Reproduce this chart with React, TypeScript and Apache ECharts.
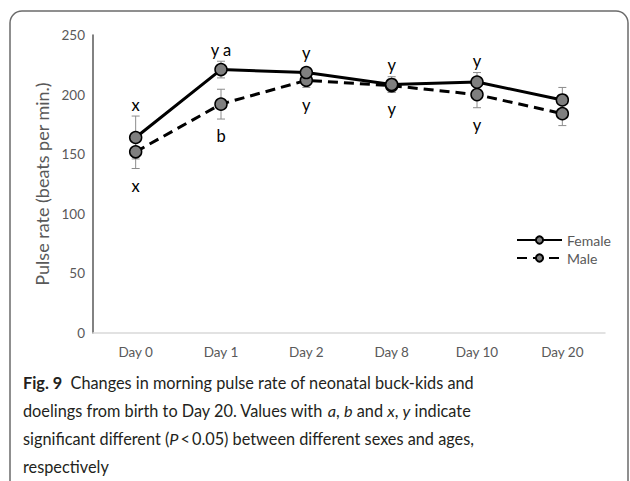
import React, { useEffect, useRef } from "react";
import * as echarts from "echarts";

const categories = ["Day 0", "Day 1", "Day 2", "Day 8", "Day 10", "Day 20"];
const femaleValues = [164, 221, 218.5, 208.5, 210.5, 195.5];
const femaleErrors = [18, 7, 4, 6.5, 8, 10.5];
const femaleLetters = ["x", "y a", "y", "y", "y", ""];
const maleValues = [152, 192, 212, 207.5, 200, 184];
const maleErrors = [14, 12.5, 6, 5.5, 11, 10];
const maleLetters = ["x", "b", "y", "y", "y", ""];
const yTicks = [0, 50, 100, 150, 200, 250];

const PX_PER_UNIT = 298 / 250;
const FONT = "Lato, 'Open Sans', sans-serif";

function errorSeries(name: string, values: number[], errors: number[]) {
  return {
    name: name + "-err",
    type: "custom",
    z: 1,
    silent: true,
    data: values.map((v, i) => [i, v - errors[i], v + errors[i]]),
    renderItem: (params: any, api: any) => {
      const x = api.value(0);
      const lo = api.coord([x, api.value(1)]);
      const hi = api.coord([x, api.value(2)]);
      const style = { stroke: "#8c8c8c", lineWidth: 1 };
      const cap = 4;
      return {
        type: "group",
        children: [
          { type: "line", shape: { x1: lo[0], y1: lo[1], x2: hi[0], y2: hi[1] }, style },
          { type: "line", shape: { x1: lo[0] - cap, y1: lo[1], x2: lo[0] + cap, y2: lo[1] }, style },
          { type: "line", shape: { x1: hi[0] - cap, y1: hi[1], x2: hi[0] + cap, y2: hi[1] }, style },
        ],
      };
    },
  };
}

function lineSeries(
  name: string,
  values: number[],
  errors: number[],
  letters: string[],
  dashed: boolean,
  above: boolean
) {
  return {
    name,
    type: "line",
    z: 3,
    symbol: "circle",
    symbolSize: 12,
    itemStyle: { color: "#7f7f7f", borderColor: "#000", borderWidth: 1.5 },
    lineStyle: { color: "#000", width: 3, type: dashed ? [10, 6] : "solid" },
    data: values.map((v, i) => ({
      value: v,
      label: {
        show: letters[i] !== "",
        formatter: letters[i],
        position: above ? "top" : "bottom",
        distance: above
          ? Math.max(4, errors[i] * PX_PER_UNIT - 4)
          : errors[i] * PX_PER_UNIT + 2,
        color: "#000",
        fontSize: 16.5,
        fontFamily: FONT,
      },
    })),
  };
}

export default function App() {
  const ref = useRef<HTMLDivElement>(null);
  useEffect(() => {
    if (!ref.current) return;
    const chart = echarts.init(ref.current, null, { renderer: "svg" });
    const option: any = {
      animation: false,
      backgroundColor: "#fff",
      grid: { left: 93, right: 25, top: 35, bottom: 148, containLabel: false },
      xAxis: {
        type: "category",
        data: categories,
        boundaryGap: true,
        axisLine: { lineStyle: { color: "#d9d9d9", width: 1.5 } },
        axisTick: { show: false },
        axisLabel: { color: "#595959", fontSize: 13.5, fontFamily: FONT, margin: 12 },
      },
      yAxis: {
        type: "value",
        min: yTicks[0],
        max: yTicks[yTicks.length - 1],
        interval: yTicks[1] - yTicks[0],
        splitLine: { show: false },
        axisLine: { show: true, lineStyle: { color: "#595959", width: 1.5 } },
        axisTick: { show: false },
        axisLabel: { color: "#595959", fontSize: 13.5, fontFamily: FONT, margin: 8 },
        name: "Pulse rate (beats per min.)",
        nameLocation: "middle",
        nameGap: 38,
        nameTextStyle: { color: "#595959", fontSize: 18, fontFamily: FONT },
      },
      legend: {
        data: ["Female", "Male"],
        orient: "vertical",
        left: 511,
        top: 228,
        itemWidth: 45,
        itemHeight: 9,
        itemGap: 4,
        textStyle: { color: "#595959", fontSize: 14, fontFamily: FONT },
      },
      series: [
        errorSeries("Female", femaleValues, femaleErrors),
        errorSeries("Male", maleValues, maleErrors),
        lineSeries("Male", maleValues, maleErrors, maleLetters, true, false),
        lineSeries("Female", femaleValues, femaleErrors, femaleLetters, false, true),
      ],
      graphic: [
        {
          type: "rect",
          silent: true,
          z: -1,
          shape: { x: 10, y: 11, width: 618, height: 500, r: 12 },
          style: { fill: "none", stroke: "#6b6b6b", lineWidth: 1.5 },
        },
        {
          type: "text",
          left: 23,
          top: 368,
          style: {
            text:
              "{b|Fig. 9}  Changes in morning pulse rate of neonatal buck-kids and\n" +
              "doelings from birth to Day 20. Values with {i|a}, {i|b} and {i|x}, {i|y} indicate\n" +
              "significant different ({i|P}\u2009<\u20090.05) between different sexes and ages,\n" +
              "respectively",
            font: "16.3px " + FONT,
            fill: "#231f20",
            lineHeight: 28,
            rich: {
              b: { fontWeight: "bold", fontSize: 16.3, fontFamily: FONT, fill: "#231f20", lineHeight: 28 },
              i: { fontStyle: "italic", fontSize: 16.3, fontFamily: FONT, fill: "#231f20", lineHeight: 28 },
            },
          },
        },
      ],
    };
    chart.setOption(option);
    return () => chart.dispose();
  }, []);
  return <div ref={ref} style={{ width: 630, height: 481, position: "absolute", left: 0, top: 0 }} />;
}
